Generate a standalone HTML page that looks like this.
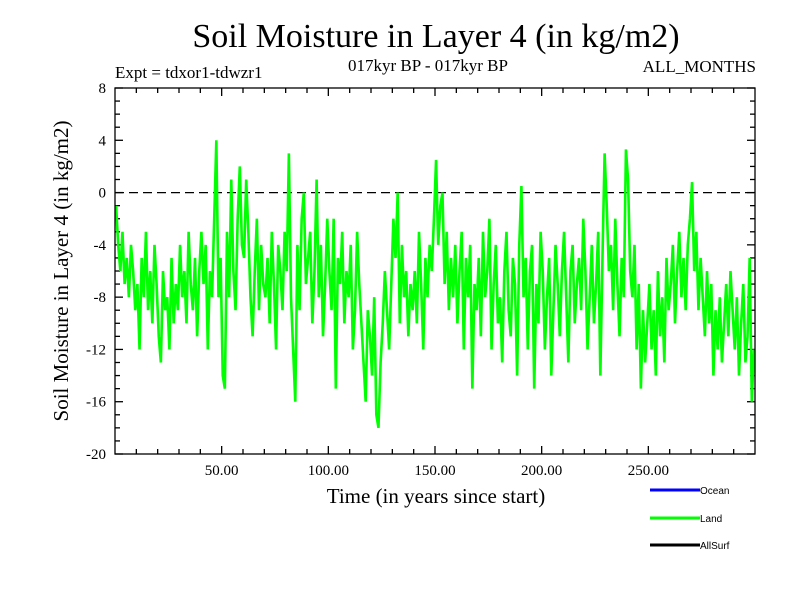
<!DOCTYPE html>
<html><head><meta charset="utf-8"><style>
body{margin:0;background:#fff;width:800px;height:600px;overflow:hidden;font-family:"Liberation Serif",serif}
</style></head><body>
<svg id="chart" width="800" height="600" xmlns="http://www.w3.org/2000/svg">
<text x="436" y="47" font-size="34" text-anchor="middle" font-family="Liberation Serif">Soil Moisture in Layer 4 (in kg/m2)</text>
<text x="115" y="78" font-size="17" font-family="Liberation Serif">Expt = tdxor1-tdwzr1</text>
<text x="428" y="71" font-size="17" text-anchor="middle" font-family="Liberation Serif">017kyr BP - 017kyr BP</text>
<text x="756" y="72" font-size="17" text-anchor="end" font-family="Liberation Serif">ALL_MONTHS</text>
<text transform="translate(68,271) rotate(-90)" font-size="21" text-anchor="middle" font-family="Liberation Serif">Soil Moisture in Layer 4 (in kg/m2)</text>
<text x="436" y="503" font-size="21" text-anchor="middle" font-family="Liberation Serif">Time (in years since start)</text>
<g id="ticks"></g>
<line x1="115" x2="755" y1="192.6" y2="192.6" stroke="#000" stroke-width="1.3" stroke-dasharray="9,5"/>
<polyline id="series" fill="none" stroke="#00ff00" stroke-width="2.6" stroke-linejoin="miter"/>
<rect x="115" y="88" width="640" height="366" fill="none" stroke="#000" stroke-width="1.3"/>
<g font-family="Liberation Sans" font-size="10">
<line x1="650" x2="700" y1="490" y2="490" stroke="#0000ff" stroke-width="3"/>
<text x="700" y="494">Ocean</text>
<line x1="650" x2="700" y1="518" y2="518" stroke="#00ff00" stroke-width="3"/>
<text x="700" y="522">Land</text>
<line x1="650" x2="700" y1="545" y2="545" stroke="#000" stroke-width="3"/>
<text x="700" y="549">AllSurf</text>
</g>
</svg>
<script>
const values = [
-1,-4,-6,-3,-7,-5,-8,-4,-6,-9,
-7,-12,-5,-8,-3,-9,-6,-10,-4,-7,
-11,-13,-6,-9,-8,-12,-5,-10,-7,-9,
-4,-8,-6,-10,-3,-7,-9,-5,-11,-6,
-3,-7,-4,-12,-6,-8,-2,4,-8,-5,
-14,-15,-3,-8,1,-6,-9,-2,2,-4,
-5,1,-3,-8,-11,-6,-2,-9,-4,-7,
-8,-5,-10,-3,-7,-12,-4,-6,-9,-3,
-6,3,-8,-12,-16,-4,-9,-2,0,-7,
-5,-3,-10,-6,1,-8,-4,-11,-7,-2,
-6,-9,-2,-15,-5,-7,-3,-10,-6,-8,
-4,-12,-9,-3,-7,-10,-13,-16,-9,-11,
-14,-8,-17,-18,-13,-10,-6,-9,-12,-7,
-2,-5,0,-10,-4,-8,-6,-11,-7,-9,
-6,-10,-3,-7,-12,-5,-8,-4,-6,-2,
2.5,-4,-1,0,-7,-3,-9,-5,-8,-4,
-10,-6,-3,-12,-5,-8,-4,-15,-7,-9,
-5,-11,-3,-8,-6,-2,-12,-7,-4,-10,
-8,-13,-6,-3,-9,-11,-5,-7,-14,-4,
0.5,-8,-5,-12,-6,-4,-15,-7,-10,-3,
-6,-12,-8,-5,-14,-9,-4,-7,-11,-6,
-3,-8,-13,-6,-4,-10,-7,-5,-9,-2,
-6,-12,-8,-4,-10,-7,-3,-14,-5,3,
-1,-6,-4,-9,-2,-7,-11,-5,-8,3.3,
1,-6,-8,-4,-12,-7,-15,-9,-13,-10,
-7,-12,-9,-14,-6,-11,-8,-13,-5,-9,
-7,-4,-10,-6,-3,-8,-5,-9,-4,-2,
0.8,-6,-3,-9,-5,-8,-11,-6,-10,-7,
-14,-9,-12,-8,-13,-10,-7,-11,-6,-9,
-12,-8,-14,-10,-7,-13,-11,-5,-16,-12
];
const yTicks = [8,4,0,-4,-8,-12,-16,-20];
const xTicks = [50,100,150,200,250];
const X0=115,X1=755,Y0=88,Y1=454,xMin=0,xMax=300,yMin=-20,yMax=8;
const sx=v=>X0+(v-xMin)/(xMax-xMin)*(X1-X0);
const sy=v=>Y1-(v-yMin)/(yMax-yMin)*(Y1-Y0);
const NS="http://www.w3.org/2000/svg";
const g=document.getElementById('ticks');
function mk(tag,attrs){const e=document.createElementNS(NS,tag);for(const k in attrs)e.setAttribute(k,attrs[k]);g.appendChild(e);return e;}
for(let v=yMin;v<=yMax;v++){
  const major=v%4===0, L=major?8:5;
  const a=mk('line',{x1:X0,x2:X0+L,y1:sy(v),y2:sy(v),stroke:'#000','stroke-width':1.3});
  
  
  const b=mk('line',{x1:X1-L,x2:X1,y1:sy(v),y2:sy(v),stroke:'#000','stroke-width':1.3});
  
  
}
yTicks.forEach(v=>{
  const t=mk('text',{x:X0-9,y:sy(v)+5,'text-anchor':'end','font-size':15,'font-family':'Liberation Serif'});
  t.textContent=v;
  
  
});
for(let v=10;v<xMax;v+=10){
  const major=v%50===0, L=major?8:5;
  const a=mk('line',{x1:sx(v),x2:sx(v),y1:Y1-L,y2:Y1,stroke:'#000','stroke-width':1.3});
  
  
  const b=mk('line',{x1:sx(v),x2:sx(v),y1:Y0,y2:Y0+L,stroke:'#000','stroke-width':1.3});
  
  
}
xTicks.forEach(v=>{
  const t=mk('text',{x:sx(v),y:Y1+21,'text-anchor':'middle','font-size':15,'font-family':'Liberation Serif'});
  t.textContent=v.toFixed(2);
  
  
});
const pts=values.map((v,i)=>sx(i*(xMax/values.length)+0.5)+','+sy(v)).join(' ');
document.getElementById('series').setAttribute('points',pts);
</script>
</body></html>
